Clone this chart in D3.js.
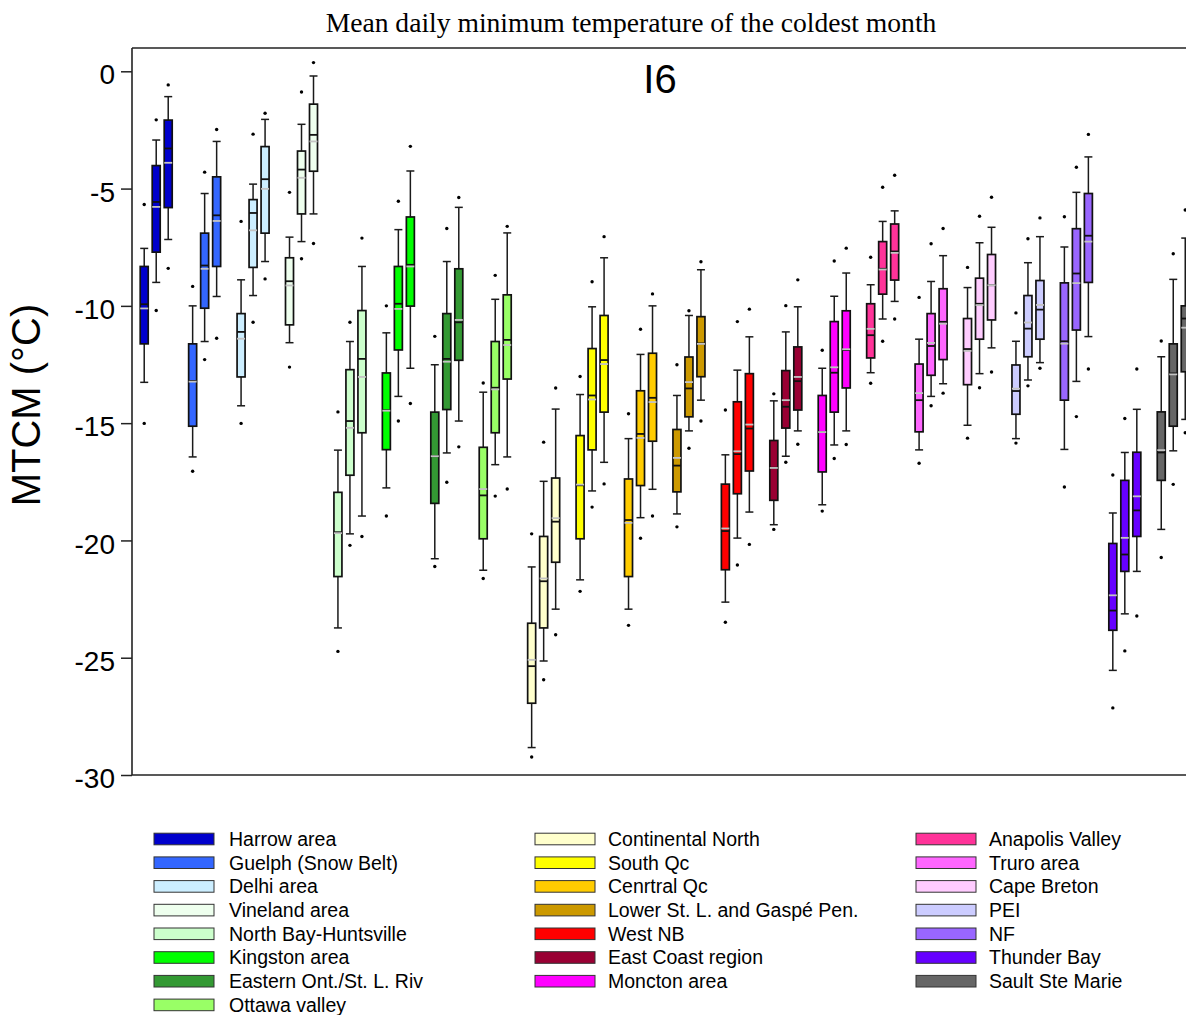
<!DOCTYPE html>
<html>
<head>
<meta charset="utf-8">
<script src="https://cdn.jsdelivr.net/npm/d3@7"></script>
<style>
  html, body { margin: 0; padding: 0; background: #fff; }
  svg { display: block; }
</style>
</head>
<body>
<svg id="chart" width="1186" height="1015"></svg>
<script>
// Climate regions, in plotting order
const regions = ["Harrow area","Guelph (Snow Belt)","Delhi area","Vineland area","North Bay-Huntsville",
  "Kingston area","Eastern Ont./St. L. Riv","Ottawa valley","Continental North","South Qc","Cenrtral Qc",
  "Lower St. L. and Gaspé Pen.","West NB","East Coast region","Moncton area","Anapolis Valley","Truro area",
  "Cape Breton","PEI","NF","Thunder Bay","Sault Ste Marie"];

const regionColors = ["#0000CC","#3366FF","#CCEEFF","#EEFFEE","#CCFFCC","#00FF00","#339933","#99FF66",
  "#FFFFCC","#FFFF00","#FFCC00","#CC9900","#FF0000","#990033","#FF00FF","#FF3399","#FF66FF","#FFCCFF",
  "#CCCCFF","#9966FF","#6600FF","#666666"];

// Three periods per region
const periods = ["P1","P2","P3"];

// MTCM statistics (°C), one triplet per region
const dotHi = [[-5.68,-2.07,-0.58],[-9.17,-4.30,-2.48],[-6.40,-2.68,-1.79],[-5.16,-0.88,0.37],
  [-14.52,-10.70,-7.11],[-10.00,-5.54,-3.20],[-11.30,-6.70,-5.38],[-13.29,-8.70,-6.61],
  [-19.72,-15.81,-13.50],[-13.01,-8.97,-7.05],[-14.60,-11.00,-9.49],[-12.51,-10.21,-8.12],
  [-14.44,-10.67,-10.14],[-13.75,-9.99,-8.89],[-11.89,-8.09,-7.54],[-7.93,-4.94,-4.43],
  [-9.64,-7.35,-6.70],[-8.36,-6.18,-5.37],[-10.30,-7.14,-6.25],[-6.20,-4.09,-2.69],
  [-17.21,-14.80,-12.69],[-11.50,-7.78,-5.91]];

const whiskHi = [[-7.55,-2.93,-1.08],[-10.00,-5.21,-2.99],[-8.89,-4.81,-2.05],[-7.07,-2.26,-0.20],
  [-16.15,-11.52,-8.32],[-11.15,-6.75,-4.25],[-12.51,-8.11,-5.80],[-13.68,-9.72,-6.89],
  [-21.13,-17.48,-14.40],[-13.78,-10.04,-7.95],[-15.66,-12.07,-10.00],[-13.82,-10.41,-8.46],
  [-16.35,-12.74,-11.32],[-14.05,-11.11,-10.04],[-12.66,-9.59,-8.60],[-9.10,-6.40,-5.95],
  [-11.42,-8.96,-7.86],[-9.22,-7.31,-6.65],[-11.51,-8.16,-7.05],[-7.49,-5.16,-3.65],
  [-18.83,-16.25,-14.41],[-12.17,-8.87,-7.11]];

const q3 = [[-8.32,-4.02,-2.08],[-11.62,-6.90,-4.50],[-10.33,-5.47,-3.21],[-7.95,-3.40,-1.40],
  [-17.95,-12.72,-10.20],[-12.86,-8.32,-6.21],[-14.53,-10.33,-8.42],[-16.03,-11.52,-9.53],
  [-23.53,-19.83,-17.34],[-15.53,-11.82,-10.41],[-17.38,-13.62,-12.02],[-15.27,-12.18,-10.46],
  [-17.60,-14.09,-12.89],[-15.74,-12.76,-11.75],[-13.82,-10.67,-10.21],[-9.91,-7.26,-6.51],
  [-12.48,-10.33,-9.27],[-10.54,-8.82,-7.81],[-12.52,-9.56,-8.92],[-9.02,-6.71,-5.21],
  [-20.13,-17.44,-16.24],[-14.52,-11.62,-10.00]];

const median = [[-9.93,-5.57,-3.29],[-13.20,-8.28,-6.14],[-11.11,-6.04,-4.60],[-8.95,-4.19,-2.71],
  [-19.65,-14.91,-12.26],[-14.45,-9.91,-8.25],[-16.41,-12.26,-10.70],[-18.08,-13.49,-11.45],
  [-25.36,-21.74,-19.20],[-17.65,-13.82,-12.31],[-19.13,-15.46,-13.92],[-16.81,-13.52,-11.60],
  [-19.60,-16.32,-15.23],[-16.90,-14.30,-13.21],[-15.38,-12.85,-11.88],[-11.25,-8.42,-7.68],
  [-14.02,-11.71,-10.68],[-11.84,-9.91,-9.12],[-13.63,-10.97,-10.16],[-11.51,-8.62,-7.01],
  [-22.99,-20.60,-18.72],[-16.25,-12.88,-10.54]];

const mean = [[-10.11,-5.78,-3.90],[-13.23,-8.42,-6.38],[-11.40,-6.78,-5.01],[-9.13,-4.54,-2.99],
  [-19.69,-15.20,-13.03],[-14.47,-10.13,-8.32],[-16.41,-12.38,-10.60],[-17.81,-13.56,-11.67],
  [-25.09,-21.62,-19.05],[-17.62,-13.99,-12.48],[-19.25,-15.63,-14.10],[-16.48,-13.25,-11.62],
  [-19.49,-16.20,-15.06],[-16.91,-14.02,-13.03],[-15.38,-12.62,-11.85],[-10.98,-8.45,-7.74],
  [-13.72,-11.58,-10.76],[-11.92,-9.97,-9.12],[-13.53,-10.71,-9.96],[-11.61,-9.03,-7.26],
  [-22.34,-19.89,-18.12],[-16.15,-12.92,-10.93]];

const q1 = [[-11.62,-7.71,-5.81],[-15.13,-10.10,-8.32],[-13.03,-8.36,-6.90],[-10.81,-6.08,-4.26],
  [-21.54,-17.22,-15.41],[-16.13,-11.88,-10.01],[-18.42,-14.42,-12.32],[-19.93,-15.41,-13.12],
  [-26.94,-23.73,-20.93],[-19.93,-16.14,-14.53],[-21.54,-17.66,-15.77],[-17.93,-14.73,-13.02],
  [-21.25,-18.01,-17.04],[-18.29,-15.21,-14.44],[-17.08,-14.53,-13.50],[-12.22,-9.50,-8.90],
  [-15.37,-12.96,-12.29],[-13.36,-11.42,-10.60],[-14.62,-12.17,-11.42],[-14.02,-11.03,-9.00],
  [-23.83,-21.32,-19.83],[-17.44,-15.13,-12.81]];

const whiskLo = [[-13.26,-9.00,-7.17],[-16.44,-11.52,-9.60],[-14.26,-9.56,-8.11],[-11.57,-7.26,-6.08],
  [-23.73,-19.72,-18.96],[-17.76,-13.86,-12.66],[-20.78,-16.27,-14.91],[-21.27,-16.77,-16.44],
  [-28.83,-25.14,-22.93],[-21.68,-17.89,-16.67],[-22.93,-19.03,-17.82],[-18.87,-15.33,-14.02],
  [-22.63,-19.90,-18.79],[-19.33,-16.41,-15.33],[-18.48,-15.93,-15.33],[-12.85,-10.56,-9.81],
  [-16.14,-13.86,-13.32],[-15.09,-12.89,-11.79],[-15.66,-13.16,-12.42],[-16.12,-13.22,-11.31],
  [-25.54,-23.13,-21.32],[-19.53,-16.18,-14.84]];

const dotLo = [[-15.01,-10.20,-8.40],[-17.05,-12.29,-11.38],[-15.01,-10.70,-8.85],[-12.61,-7.99,-7.34],
  [-24.73,-20.21,-19.83],[-18.96,-14.91,-14.16],[-21.11,-17.52,-16.01],[-21.62,-18.11,-17.81],
  [-29.23,-25.94,-24.02],[-22.17,-18.58,-17.59],[-23.62,-19.91,-18.96],[-19.42,-16.07,-14.91],
  [-23.49,-21.05,-20.17],[-19.53,-16.67,-15.90],[-18.75,-16.51,-15.91],[-13.30,-11.51,-10.56],
  [-16.71,-14.26,-13.72],[-15.64,-13.49,-12.82],[-15.85,-13.41,-12.66],[-17.72,-14.72,-12.69],
  [-27.14,-24.71,-23.22],[-20.73,-17.61,-15.41]];

const yTicks = [0, -5, -10, -15, -20, -25, -30];

// Legend columns (indices into regions)
const legendColumns = [[0,1,2,3,4,5,6,7],[8,9,10,11,12,13,14],[15,16,17,18,19,20,21]];

// ---- layout ----
const svg = d3.select("#chart");
const W = 1186;
const plotLeft = 132, plotTop = 48, plotBottom = 775;
const groupWidth = 48.43;

const x = d3.scaleBand().domain(regions).range([plotLeft, plotLeft + groupWidth * regions.length]).padding(0);
const xInner = d3.scaleBand().domain(periods).range([-18, 18]).padding(0);
const y = d3.scaleLinear().domain([-30, 0]).range([plotBottom, 71.3]);

const boxW = 8, capW = 8;

// Build flat list of boxes
const boxes = [];
regions.forEach((r, i) => {
  periods.forEach((p, j) => {
    boxes.push({
      region: r, color: regionColors[i],
      cx: x(r) + x.bandwidth() / 2 + xInner(p) + xInner.bandwidth() / 2,
      dotHi: dotHi[i][j], whiskHi: whiskHi[i][j], q3: q3[i][j], median: median[i][j],
      mean: mean[i][j], q1: q1[i][j], whiskLo: whiskLo[i][j], dotLo: dotLo[i][j]
    });
  });
});

// Title
svg.append("text")
  .attr("x", 631).attr("y", 32)
  .attr("text-anchor", "middle")
  .attr("font-family", "'Liberation Serif', 'Times New Roman', serif")
  .attr("font-size", 27.6)
  .attr("fill", "#000")
  .text("Mean daily minimum temperature of the coldest month");

// Panel label
svg.append("text")
  .attr("x", 660).attr("y", 93)
  .attr("text-anchor", "middle")
  .attr("font-family", "'Liberation Sans', Arial, sans-serif")
  .attr("font-size", 40)
  .attr("fill", "#000")
  .text("I6");

// Y axis label
svg.append("text")
  .attr("transform", "translate(40,405) rotate(-90)")
  .attr("text-anchor", "middle")
  .attr("font-family", "'Liberation Sans', Arial, sans-serif")
  .attr("font-size", 40)
  .attr("fill", "#000")
  .text("MTCM (°C)");

// Y axis (plain hyphen-minus labels)
const yAxis = svg.append("g")
  .attr("transform", `translate(${plotLeft},0)`)
  .call(d3.axisLeft(y).tickValues(yTicks).tickSize(11).tickPadding(6).tickFormat(d => String(d)));
yAxis.select(".domain").remove();
yAxis.selectAll(".tick line").attr("stroke", "#222").attr("stroke-width", 1.5);
yAxis.selectAll(".tick text")
  .attr("font-family", "'Liberation Sans', Arial, sans-serif")
  .attr("font-size", 28)
  .attr("fill", "#000")
  .attr("dy", "0.45em");

// Frame: left, top and bottom lines
const frame = svg.append("g").attr("stroke", "#222").attr("stroke-width", 1.6).attr("fill", "none");
frame.append("line").attr("x1", plotLeft).attr("x2", plotLeft).attr("y1", plotTop).attr("y2", plotBottom);
frame.append("line").attr("x1", plotLeft).attr("x2", W).attr("y1", plotTop).attr("y2", plotTop);
frame.append("line").attr("x1", plotLeft).attr("x2", W).attr("y1", plotBottom).attr("y2", plotBottom);

// Box plots
const g = svg.append("g");
const bx = g.selectAll("g.box").data(boxes).join("g").attr("class", "box");

// whiskers
bx.append("line")
  .attr("x1", d => d.cx).attr("x2", d => d.cx)
  .attr("y1", d => y(d.q3)).attr("y2", d => y(d.whiskHi))
  .attr("stroke", "#1a1a1a").attr("stroke-width", 1.5);
bx.append("line")
  .attr("x1", d => d.cx).attr("x2", d => d.cx)
  .attr("y1", d => y(d.q1)).attr("y2", d => y(d.whiskLo))
  .attr("stroke", "#1a1a1a").attr("stroke-width", 1.5);
bx.append("line")
  .attr("x1", d => d.cx - capW / 2).attr("x2", d => d.cx + capW / 2)
  .attr("y1", d => y(d.whiskHi)).attr("y2", d => y(d.whiskHi))
  .attr("stroke", "#1a1a1a").attr("stroke-width", 1.5);
bx.append("line")
  .attr("x1", d => d.cx - capW / 2).attr("x2", d => d.cx + capW / 2)
  .attr("y1", d => y(d.whiskLo)).attr("y2", d => y(d.whiskLo))
  .attr("stroke", "#1a1a1a").attr("stroke-width", 1.5);

// boxes
bx.append("rect")
  .attr("x", d => d.cx - boxW / 2).attr("width", boxW)
  .attr("y", d => y(d.q3)).attr("height", d => y(d.q1) - y(d.q3))
  .attr("fill", d => d.color)
  .attr("stroke", "#111").attr("stroke-width", 1.7);

// median
bx.append("line")
  .attr("x1", d => d.cx - boxW / 2).attr("x2", d => d.cx + boxW / 2)
  .attr("y1", d => y(d.median)).attr("y2", d => y(d.median))
  .attr("stroke", "#111").attr("stroke-width", 1.8);

// mean
bx.append("line")
  .attr("x1", d => d.cx - boxW / 2).attr("x2", d => d.cx + boxW / 2)
  .attr("y1", d => y(d.mean)).attr("y2", d => y(d.mean))
  .attr("stroke", "#C4C4C4").attr("stroke-width", 1.8);

// outlying points
bx.append("circle").attr("cx", d => d.cx).attr("cy", d => y(d.dotHi)).attr("r", 1.7).attr("fill", "#000");
bx.append("circle").attr("cx", d => d.cx).attr("cy", d => y(d.dotLo)).attr("r", 1.7).attr("fill", "#000");

// Legend
const legendX = [154, 535, 916];
const textX = [229, 608, 989];
const rowY0 = 839, rowStep = 23.7;
legendColumns.forEach((col, c) => {
  col.forEach((idx, r) => {
    const cy = rowY0 + r * rowStep;
    svg.append("rect")
      .attr("x", legendX[c]).attr("y", cy - 5.8)
      .attr("width", 60).attr("height", 11.6)
      .attr("fill", regionColors[idx])
      .attr("stroke", "#333").attr("stroke-width", 1);
    svg.append("text")
      .attr("x", textX[c]).attr("y", cy)
      .attr("dy", "0.35em")
      .attr("font-family", "'Liberation Sans', Arial, sans-serif")
      .attr("font-size", 19.5)
      .attr("fill", "#000")
      .text(regions[idx]);
  });
});
</script>
</body>
</html>
